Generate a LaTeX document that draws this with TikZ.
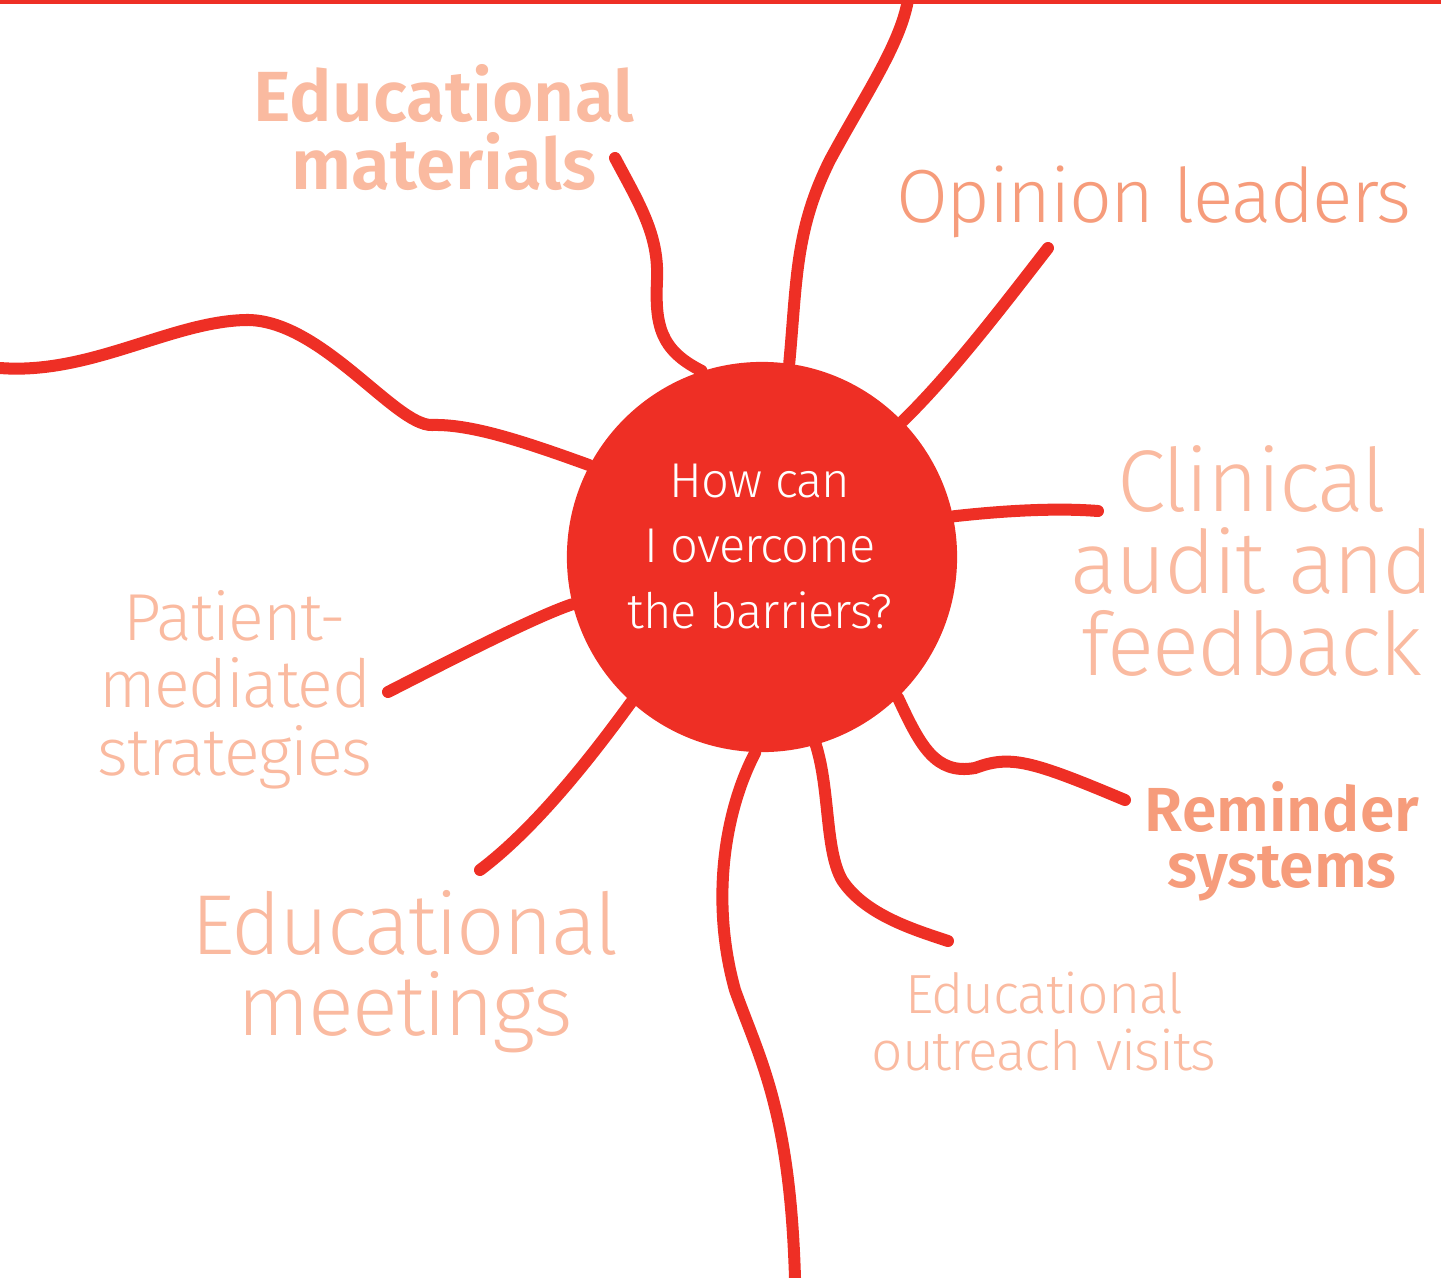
\documentclass[tikz,border=0pt]{standalone}
\usepackage{fontspec}
\setmainfont{Fira Sans}[UprightFont={* Light},BoldFont={* SemiBold},UprightFeatures={LetterSpace=-2}]
\usetikzlibrary{backgrounds}
\definecolor{hubred}{RGB}{238,47,37}
\definecolor{palesalmon}{RGB}{250,186,160}
\definecolor{deepsalmon}{RGB}{246,156,123}
\tikzset{
    spoke/.style={draw=hubred,line width=0.12cm,line cap=round},
    lbl/.style={anchor=base,align=center,inner sep=0pt,text=palesalmon},
}

\begin{document}
\begin{tikzpicture}[x=0.01cm,y=-0.01cm]%
    \useasboundingbox (0,0) rectangle (1441,1278);
    \node[circle,fill=hubred,minimum size=3.9cm,inner sep=0pt] (hub) at (762,557) {};
    \node[lbl,text=white,font=\fontsize{13.9}{18.5}\selectfont] (question) at (760,628) {How can\\I overcome\\the barriers?};
    \node[lbl,font=\bfseries\fontsize{20.2}{19.3}\selectfont] (materials) at (444,189) {Educational\\materials};
    \node[lbl,text=deepsalmon,font=\fontsize{21.4}{22}\selectfont] (opinion) at (1154,222) {Opinion leaders};
    \node[lbl,font=\fontsize{24.9}{23.3}\selectfont] (audit) at (1252,675) {Clinical\\audit and\\feedback};
    \node[lbl,text=deepsalmon,font=\bfseries\fontsize{17.7}{15.8}\selectfont] (reminder) at (1282,887) {Reminder\\systems};
    \node[lbl,font=\fontsize{15.7}{16.2}\selectfont] (outreach) at (1044,1070) {Educational\\outreach visits};
    \node[lbl,font=\fontsize{24.2}{22.8}\selectfont] (meetings) at (405,1035) {Educational\\meetings};
    \node[lbl,font=\fontsize{18.9}{19.1}\selectfont] (patient) at (235,775) {Patient-\\mediated\\strategies};
    \coordinate (topend) at (908,0);
    \coordinate (leftend) at (0,368);
    \coordinate (bottomend) at (795,1278);
    \coordinate (materialsend) at (615,158);
    \coordinate (opinionend) at (1048,248);
    \coordinate (auditend) at (1098,511);
    \coordinate (reminderend) at (1125,800);
    \coordinate (outreachend) at (948,941);
    \coordinate (meetingsend) at (480,870);
    \coordinate (patientend) at (388,692);
    \begin{scope}[on background layer]
        \draw[hubred,line width=0.045cm] (0,2)--(1441,2);
        \draw[spoke] (hub.82) .. controls (797,280) and (795,230) .. (830,160) .. controls (865,95) and (900,45) .. (topend);
        \draw[spoke] (hub.108) .. controls (660,350) and (655,325) .. (657,280) .. controls (659,235) and (640,205) .. (materialsend);
        \draw[spoke] (hub.152) .. controls (520,440) and (470,424) .. (432,425) .. controls (395,426) and (320,318) .. (245,320)
            .. controls (170,322) and (90,375) .. (leftend);
        \draw[spoke] (hub.194) .. controls (540,615) and (470,650) .. (patientend);
        \draw[spoke] (hub.228) .. controls (600,745) and (540,825) .. (meetingsend);
        \draw[spoke] (hub.268) .. controls (725,810) and (710,900) .. (735,990) .. controls (760,1060) and (790,1110) .. (bottomend);
        \draw[spoke] (hub.286) .. controls (830,790) and (825,850) .. (842,880) .. controls (865,915) and (915,930) .. (outreachend);
        \draw[spoke] (hub.314) .. controls (920,745) and (935,775) .. (975,768) .. controls (1010,755) and (1030,760) .. (reminderend);
        \draw[spoke] (hub.12) .. controls (1010,510) and (1060,508) .. (auditend);
        \draw[spoke] (hub.44) .. controls (950,375) and (1000,310) .. (opinionend);
    \end{scope}
\end{tikzpicture}
\end{document}
